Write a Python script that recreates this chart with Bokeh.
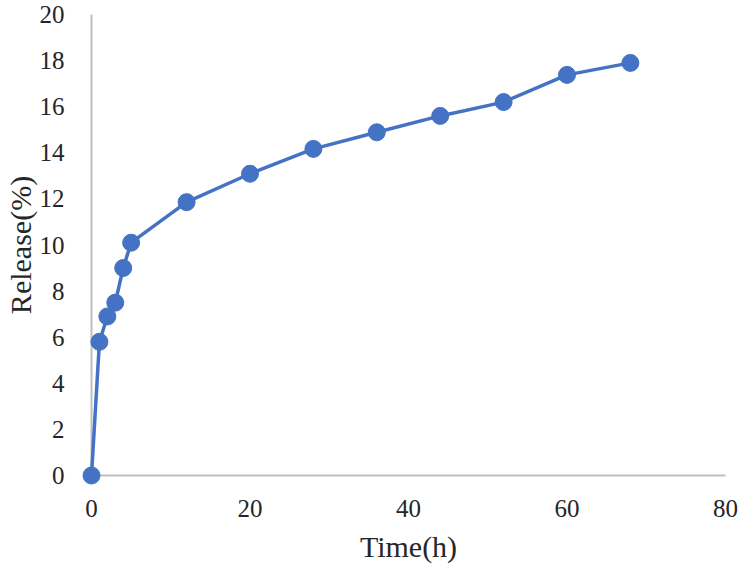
from bokeh.plotting import figure
from bokeh.models import Range1d, SingleIntervalTicker
from bokeh.embed import file_html
from bokeh.resources import INLINE

time_h = [0, 1, 2, 3, 4, 5, 12, 20, 28, 36, 44, 52, 60, 68]
release = [0, 5.8, 6.9, 7.5, 9.0, 10.1, 11.86, 13.09, 14.17, 14.89, 15.6, 16.2, 17.38, 17.9]

x_label = "Time(h)"
y_label = "Release(%)"

p = figure(width=742, height=570, output_backend="svg", toolbar_location=None,
           x_range=Range1d(0, 80), y_range=Range1d(0, 20),
           min_border_left=91, min_border_right=17, min_border_top=14, min_border_bottom=95)
p.outline_line_color = None
p.grid.visible = False
p.background_fill_color = "white"
p.border_fill_color = "white"

blue = "#4472C4"
p.line(time_h, release, line_color=blue, line_width=3.5, level="overlay")
p.scatter(time_h, release, size=17, fill_color=blue, line_color=blue, level="overlay")

for ax in (p.xaxis[0], p.yaxis[0]):
    ax.axis_line_color = "#BFBFBF"
    ax.axis_line_width = 2
    ax.major_tick_line_color = None
    ax.minor_tick_line_color = None
    ax.major_tick_out = 0
    ax.major_tick_in = 0
    ax.major_label_text_font = "Liberation Serif"
    ax.major_label_text_font_size = "25px"
    ax.major_label_text_color = "#262626"
    ax.axis_label_text_font = "Liberation Serif"
    ax.axis_label_text_font_size = "30px"
    ax.axis_label_text_font_style = "normal"
    ax.axis_label_text_color = "#262626"

p.xaxis[0].ticker = SingleIntervalTicker(interval=20)
p.yaxis[0].ticker = SingleIntervalTicker(interval=2)
p.xaxis[0].axis_label = x_label
p.yaxis[0].axis_label = y_label
p.xaxis[0].major_label_standoff = 20
p.yaxis[0].major_label_standoff = 23
p.xaxis[0].axis_label_standoff = 10
p.yaxis[0].axis_label_standoff = 0

open("out.html", "w").write(file_html(p, INLINE))
